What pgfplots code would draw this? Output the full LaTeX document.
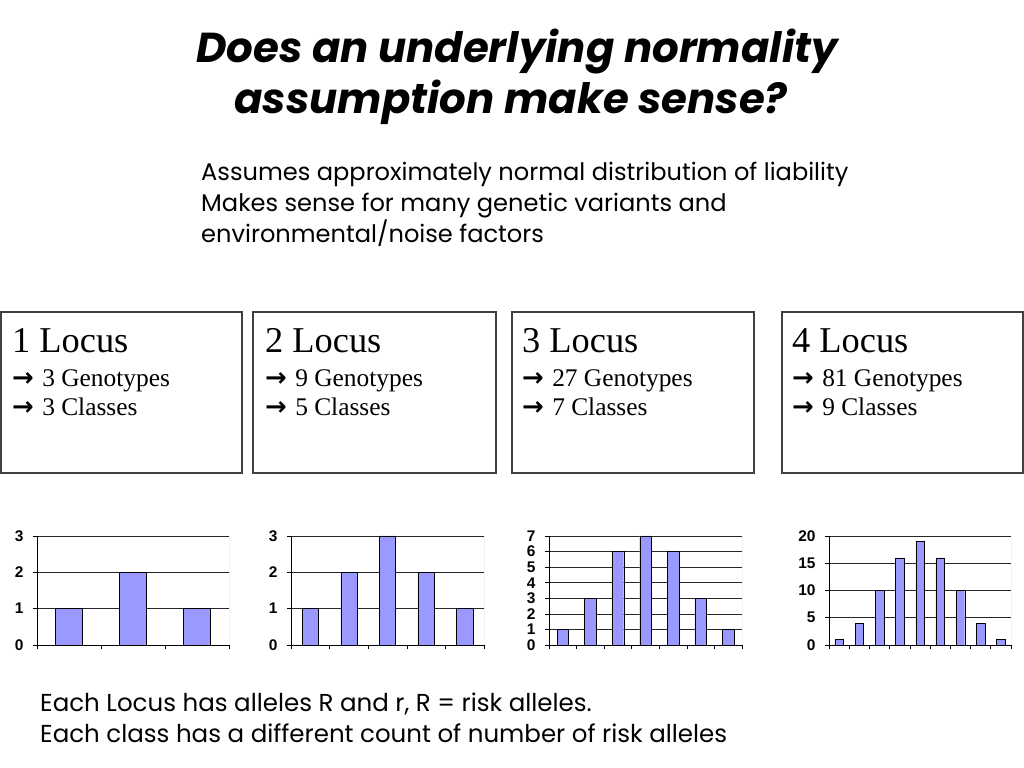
\documentclass[border=0pt]{standalone}
\usepackage{fontspec}
\usepackage{pgfplots}
\pgfplotsset{compat=1.18}
\setmainfont{Liberation Serif}
\newfontfamily\gothic{Poppins}
\newfontfamily\arial{Liberation Sans}
\newfontfamily\dejavu{DejaVu Sans}

\definecolor{barblue}{HTML}{9999FF}

\pgfplotsset{
  minichart/.style={
    scale only axis, height=109bp,
    ybar, bar width=0.42,
    axis lines=left, axis line style={-, black, line width=0.8bp},
    xmin=0.5, ymin=0,
    ymajorgrids, grid style={black!85, line width=0.6bp},
    tick align=outside, major tick length=4bp,
    tick style={black, line width=0.6bp},
    xticklabels={},
    /pgf/number format/assume math mode=true,
    tick label style={font=\arial\bfseries\fontsize{15.5}{15.5}\selectfont},
    yticklabel style={xshift=-6bp},
    cycle list={{fill=barblue, draw=black, line width=0.5bp}},
  }
}

\newcommand{\arr}{{\dejavu\bfseries\fontsize{26}{26}\selectfont →}\hspace{2bp}}

\begin{document}
\begin{tikzpicture}[x=1bp, y=1bp]
\fill[white] (0,0) rectangle (1024,768);
\path[use as bounding box] (0,0) rectangle (1024,768);

% title
\node[anchor=base, inner sep=0, font=\gothic\bfseries\itshape\fontsize{42}{42}\selectfont] at (517,705) {Does an underlying normality};
\node[anchor=base, inner sep=0, font=\gothic\bfseries\itshape\fontsize{42}{42}\selectfont] at (511,654) {assumption make sense?};

% subtitle and note
\begin{scope}[every node/.style={anchor=base west, inner sep=0, font=\gothic\fontsize{24.2}{24.2}\selectfont}]
\node at (201,587) {Assumes approximately normal distribution of liability};
\node at (201,556) {Makes sense for many genetic variants and};
\node at (201,525) {environmental/noise factors};
\end{scope}
\begin{scope}[every node/.style={anchor=base west, inner sep=0, font=\gothic\fontsize{24.6}{24.6}\selectfont}]
\node at (40,56) {Each Locus has alleles R and r, R = risk alleles.};
\node at (40,25) {Each class has a different count of number of risk alleles};
\end{scope}

% boxes
\begin{scope}[line width=1.3bp, draw=black!75]
\draw (1,295) rectangle (242,456);
\draw (253,295) rectangle (496,456);
\draw (512,295) rectangle (754,456);
\draw (782,295) rectangle (1023,456);
\end{scope}
\begin{scope}[every node/.style={anchor=base west, inner sep=0}]
\node[font=\fontsize{36.5}{36.5}\selectfont] at (12,415) {1 Locus};
\node[font=\fontsize{25.5}{25.5}\selectfont] at (12,381) {\arr\ 3 Genotypes};
\node[font=\fontsize{25.5}{25.5}\selectfont] at (12,352) {\arr\ 3 Classes};
\node[font=\fontsize{36.5}{36.5}\selectfont] at (265,415) {2 Locus};
\node[font=\fontsize{25.5}{25.5}\selectfont] at (265,381) {\arr\ 9 Genotypes};
\node[font=\fontsize{25.5}{25.5}\selectfont] at (265,352) {\arr\ 5 Classes};
\node[font=\fontsize{36.5}{36.5}\selectfont] at (522,415) {3 Locus};
\node[font=\fontsize{25.5}{25.5}\selectfont] at (522,381) {\arr\ 27 Genotypes};
\node[font=\fontsize{25.5}{25.5}\selectfont] at (522,352) {\arr\ 7 Classes};
\node[font=\fontsize{36.5}{36.5}\selectfont] at (792,415) {4 Locus};
\node[font=\fontsize{25.5}{25.5}\selectfont] at (792,381) {\arr\ 81 Genotypes};
\node[font=\fontsize{25.5}{25.5}\selectfont] at (792,352) {\arr\ 9 Classes};
\end{scope}

% chart 1
\begin{axis}[minichart, at={(37bp,123bp)}, anchor=south west, width=192bp,
  xmax=3.5, ymax=3, ytick={0,1,2,3}, xtick={0.5,1.5,2.5,3.5}]
\addplot coordinates {(1,1) (2,2) (3,1)};
\draw[gray!70, line width=0.6bp] (rel axis cs:1,0) -- (rel axis cs:1,1);
\end{axis}

% chart 2
\begin{axis}[minichart, at={(291bp,123bp)}, anchor=south west, width=193bp,
  xmax=5.5, ymax=3, ytick={0,1,2,3}, xtick={0.5,1.5,...,5.5}]
\addplot coordinates {(1,1) (2,2) (3,3) (4,2) (5,1)};
\draw[gray!70, line width=0.6bp] (rel axis cs:1,0) -- (rel axis cs:1,1);
\end{axis}

% chart 3
\begin{axis}[minichart, at={(549bp,123bp)}, anchor=south west, width=193bp,
  xmax=7.5, ymax=7, ytick={0,1,...,7}, xtick={0.5,1.5,...,7.5}]
\addplot coordinates {(1,1) (2,3) (3,6) (4,7) (5,6) (6,3) (7,1)};
\draw[gray!70, line width=0.6bp] (rel axis cs:1,0) -- (rel axis cs:1,1);
\end{axis}

% chart 4
\begin{axis}[minichart, at={(829bp,123bp)}, anchor=south west, width=182bp,
  xmax=9.5, ymax=20, ytick={0,5,...,20}, xtick={0.5,1.5,...,9.5}]
\addplot coordinates {(1,1) (2,4) (3,10) (4,16) (5,19) (6,16) (7,10) (8,4) (9,1)};
\draw[gray!70, line width=0.6bp] (rel axis cs:1,0) -- (rel axis cs:1,1);
\end{axis}
\end{tikzpicture}
\end{document}
